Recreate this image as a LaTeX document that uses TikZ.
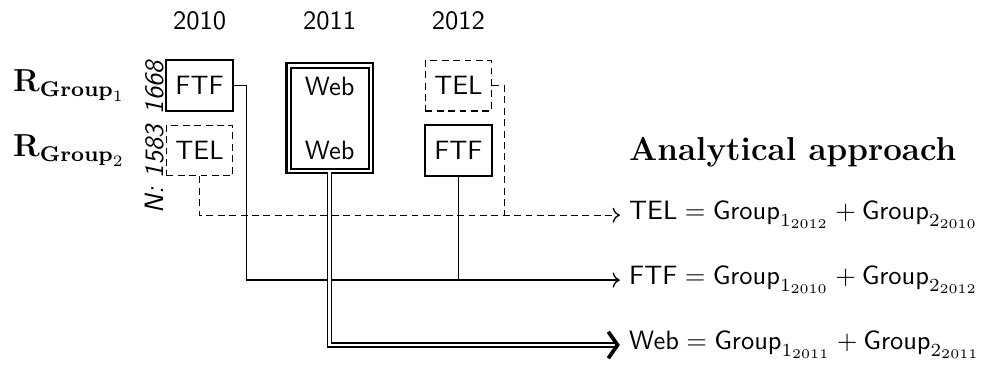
\documentclass[tikz,border=0pt]{standalone}
\usepackage{amsmath, amssymb}
\usepackage{tikz}
\usetikzlibrary{calc, arrows, arrows.meta, positioning}
\tikzset{
    boxnode/.style = {draw, rectangle, thick, minimum width=2.5em, minimum height=1.9em, 
      inner sep=0em, node distance=0em, font=\sffamily},
    dashboxnode/.style = {boxnode, semithick, dash pattern=on 2.6pt off 1.7pt},
    webnode/.style = {draw, rectangle, thick, double, double distance=0.8pt, minimum width=3.1em, 
      minimum height=3.98em, inner sep=0em, node distance=0em, font=\sffamily, align=center},
    textnode/.style = {draw=none, fill=none, rectangle, node distance=0em, font=\sffamily},
    rotnode/.style = {textnode, rotate=90, font=\sffamily\itshape},
    labelnode/.style = {draw=none, fill=none, node distance=0em, font=\large},
    eqnode/.style = {draw=none, fill=none, node distance=0em},
    connect/.style = {black, line width=0.5pt, ->},
    dashconnect/.style = {black, line width=0.5pt, ->, dash pattern=on 2.6pt off 1.7pt},
    implies/.style = {double, double distance=0.9pt, line width=0.6pt, 
      -{Straight Barb[length=3.5pt, width=10pt, line width=1.4pt]}}
}

\begin{document}
\begin{tikzpicture}
\useasboundingbox (-7.53em, 3.23em) rectangle (29.79em, -10.62em);

% boxes per year
\node [boxnode, name=ftfa] at (0em, 0em) {FTF};
\node [dashboxnode, name=telb, below of=ftfa, yshift=-2.45em] {TEL};
\node [webnode, name=web, right of=ftfa, xshift=4.91em, yshift=-1.23em] {Web\\[12pt]Web};
\node [dashboxnode, name=telc, right of=ftfa, xshift=9.77em] {TEL};
\node [boxnode, name=ftfb, below of=telc, yshift=-2.45em] {FTF};

% years
\node [textnode, name=year1, above of=ftfa, yshift=2.43em] {2010};
\node [textnode, name=year2, above of=web, yshift=3.66em] {2011};
\node [textnode, name=year3, above of=telc, yshift=2.43em] {2012};

% groups
\node [labelnode, name=groupa, left of=ftfa, anchor=east, xshift=-2.45em] {$\mathbf{R}_{\mathbf{Group}_1}$};
\node [labelnode, name=groupb, left of=telb, anchor=east, xshift=-2.45em] {$\mathbf{R}_{\mathbf{Group}_2}$};
\node [rotnode, name=sizea] at ($(ftfa.center)+(-1.68em, -0.08em)$) {1668};
\node [rotnode, name=sizeb] at ($(telb.center)+(-1.68em, -0.7em)$) {N: 1583};

% analytical approach
\node [labelnode, name=title, anchor=west] at ($(ftfb.center)+(6.09em, -0.06em)$) 
    {\fontsize{12.5}{15}\selectfont\textbf{Analytical approach}};
\node [eqnode, name=teleq, anchor=west] at ($(title.west)+(0em, -2.38em)$) 
    {$\mathsf{TEL} = \mathsf{Group}_{1_{2012}} + \mathsf{Group}_{2_{2010}}$};
\node [eqnode, name=ftfeq, anchor=west] at ($(teleq.west)+(0em, -2.45em)$) 
    {$\mathsf{FTF} = \mathsf{Group}_{1_{2010}} + \mathsf{Group}_{2_{2012}}$};
\node [eqnode, name=webeq, anchor=west] at ($(ftfeq.west)+(0em, -2.45em)$) 
    {$\mathsf{Web} = \mathsf{Group}_{1_{2011}} + \mathsf{Group}_{2_{2011}}$};

% connectors
\coordinate (telbend) at ($(telc.east)+(0.45em, 0em)$);
\coordinate (ftfbend) at ($(ftfa.east)+(0.48em, 0em)$);
\draw [dashconnect] (telb.south) |- (teleq.west);
\draw [dashconnect, -] (telc.east) -- (telbend) -- (telbend |- teleq.west);
\draw [connect] (ftfa.east) -- (ftfbend) |- (ftfeq.west);
\draw [line width=0.5pt] (ftfb.south) -- (ftfb.south |- ftfeq.west);
\draw [implies] (web.south) |- (webeq.west);
\end{tikzpicture}
\end{document}
